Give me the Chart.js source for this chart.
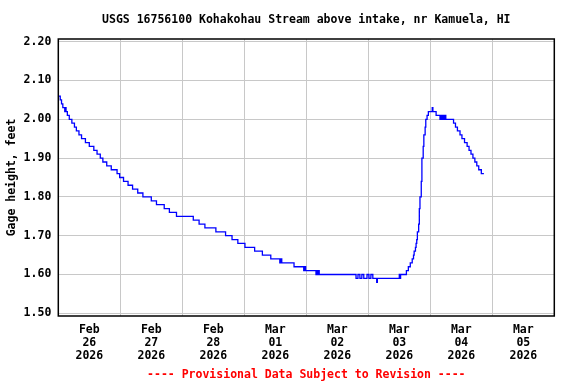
<!DOCTYPE html>
<html>
<head>
<meta charset="utf-8">
<script src="https://cdn.jsdelivr.net/npm/chart.js@4"></script>
<style>
  html, body { margin: 0; padding: 0; background: #fff; }
</style>
</head>
<body>
<canvas id="gageChart" width="576" height="384"></canvas>
<script>
// hours since Feb 26 2026 00:00, value holds until the next point
const hours = [
    0, 0.75, 1.25, 1.75, 2.5, 2.75, 3, 3.5, 4.25, 5.25, 6.25, 7, 8, 9, 10.5, 12, 13.75, 15, 16.25, 17.25,
    18.75, 20.5, 22.75, 23.75, 25.25, 27, 28.75, 30.75, 32.75, 36, 38, 41, 43, 45.75, 52.25, 54.5, 56.75, 61,
    64.75, 67.25, 69.5, 72.25, 76, 79, 82.25, 85.75, 86, 86.5, 91.25, 95, 95.25, 95.75, 99.75, 100, 100.25, 100.5, 101,
    115.25, 116, 116.75, 117.5, 118.25, 119.5, 120.25, 121, 121.75, 123.25, 123.5,
    132, 132.25, 132.5, 134.75, 135.5, 136.25, 137, 137.5, 137.75, 138.25, 138.5, 138.75, 139, 139.5, 139.75,
    140, 140.5, 140.75, 141.25, 141.5, 142, 142.25, 142.75, 143.25, 144.75, 145, 146.25, 147.75, 148, 148.5,
    149, 149.25, 149.75, 150, 153, 153.75, 154.5, 155.5, 156.25, 157.25, 158.25, 159, 159.75, 160.5, 161.25,
    162, 162.75, 163.75, 164.75
];
const gage = [
    2.06, 2.05, 2.04, 2.03, 2.02, 2.03, 2.02, 2.01, 2.00, 1.99, 1.98, 1.97, 1.96, 1.95, 1.94, 1.93, 1.92, 1.91, 1.90, 1.89,
    1.88, 1.87, 1.86, 1.85, 1.84, 1.83, 1.82, 1.81, 1.80, 1.79, 1.78, 1.77, 1.76, 1.75, 1.74, 1.73, 1.72, 1.71,
    1.70, 1.69, 1.68, 1.67, 1.66, 1.65, 1.64, 1.63, 1.64, 1.63, 1.62, 1.61, 1.62, 1.61, 1.60, 1.61, 1.60, 1.61, 1.60,
    1.59, 1.60, 1.59, 1.60, 1.59, 1.60, 1.59, 1.60, 1.59, 1.58, 1.59,
    1.60, 1.59, 1.60, 1.61, 1.62, 1.63, 1.64, 1.65, 1.66, 1.67, 1.68, 1.69, 1.71, 1.73, 1.77,
    1.80, 1.84, 1.90, 1.93, 1.96, 1.98, 2.00, 2.01, 2.02, 2.03, 2.02, 2.01, 2.00, 2.01, 2.00,
    2.01, 2.00, 2.01, 2.00, 1.99, 1.98, 1.97, 1.96, 1.95, 1.94, 1.93, 1.92, 1.91, 1.90, 1.89,
    1.88, 1.87, 1.86, 1.86
];
const dayLabels = [
    ['Feb', '26', '2026'], ['Feb', '27', '2026'], ['Feb', '28', '2026'], ['Mar', '01', '2026'],
    ['Mar', '02', '2026'], ['Mar', '03', '2026'], ['Mar', '04', '2026'], ['Mar', '05', '2026']
];
const gageTicks = [1.50, 1.60, 1.70, 1.80, 1.90, 2.00, 2.10, 2.20];

const titleText = 'USGS 16756100 Kohakohau Stream above intake, nr Kamuela, HI';
const footerText = '---- Provisional Data Subject to Revision ----';

const FONT = "'DejaVu Sans Mono', 'Liberation Mono', monospace";
const GRID = '#c8c8c8';

// black box round the plot
const framePlugin = {
    id: 'frame',
    afterDatasetsDraw(chart) {
        const { ctx, chartArea: a } = chart;
        ctx.save();
        ctx.strokeStyle = '#000';
        ctx.lineWidth = 1.5;
        ctx.strokeRect(a.left, a.top, a.right - a.left, a.bottom - a.top);
        ctx.restore();
    }
};

function buildDayTicks(scale) {
    const ticks = [];
    dayLabels.forEach((d, i) => {
        ticks.push({ value: i * 24 });
        ticks.push({ value: i * 24 + 12 });
    });
    ticks.push({ value: dayLabels.length * 24 });
    scale.ticks = ticks;
}

function renderChart() {
    const ctx = document.getElementById('gageChart').getContext('2d');
    const points = hours.map((h, i) => ({ x: h, y: gage[i] }));

    new Chart(ctx, {
        type: 'line',
        data: {
            datasets: [{
                data: points,
                borderColor: '#0000ff',
                borderWidth: 1.3,
                pointRadius: 0,
                stepped: 'before',
                fill: false
            }]
        },
        options: {
            responsive: false,
            animation: false,
            layout: { padding: { left: 0, right: 21.7, top: 0, bottom: 0 } },
            scales: {
                x: {
                    type: 'linear',
                    min: 0,
                    max: dayLabels.length * 24,
                    afterBuildTicks: buildDayTicks,
                    afterFit: s => { s.height = 46.5; },
                    border: { display: false },
                    grid: {
                        drawTicks: false,
                        color: c => (c.tick && c.tick.value % 24 === 0) ? GRID : 'rgba(0,0,0,0)',
                        lineWidth: 1
                    },
                    ticks: {
                        autoSkip: false,
                        maxRotation: 0,
                        padding: 7.5,
                        color: '#000',
                        font: { family: FONT, size: 11.5, weight: 'bold', lineHeight: '13px' },
                        callback: v => (v % 24 === 12) ? dayLabels[(v - 12) / 24] : ''
                    }
                },
                y: {
                    min: 1.493,
                    max: 2.207,
                    afterBuildTicks: s => { s.ticks = gageTicks.map(v => ({ value: v })); },
                    afterFit: s => { s.width = 58.3; },
                    border: { display: false },
                    grid: { drawTicks: false, color: GRID, lineWidth: 1 },
                    ticks: {
                        padding: 7,
                        color: '#000',
                        font: { family: FONT, size: 11.5, weight: 'bold' },
                        callback: v => v.toFixed(2)
                    },
                    title: {
                        display: true,
                        text: 'Gage height, feet',
                        color: '#000',
                        font: { family: FONT, size: 11.5, weight: 'bold' },
                        padding: { top: 5, bottom: 0 }
                    }
                }
            },
            plugins: {
                legend: { display: false },
                tooltip: { enabled: false },
                title: {
                    display: true,
                    fullSize: false,
                    text: titleText,
                    color: '#000',
                    font: { family: FONT, size: 11.5, weight: 'bold' },
                    padding: { top: 13, bottom: 12.2 }
                },
                subtitle: {
                    display: true,
                    fullSize: false,
                    position: 'bottom',
                    text: footerText,
                    color: '#ff0000',
                    font: { family: FONT, size: 11.5, weight: 'bold' },
                    padding: { top: 5.7, bottom: 2 }
                }
            }
        },
        plugins: [framePlugin]
    });
}

renderChart();
</script>
</body>
</html>
